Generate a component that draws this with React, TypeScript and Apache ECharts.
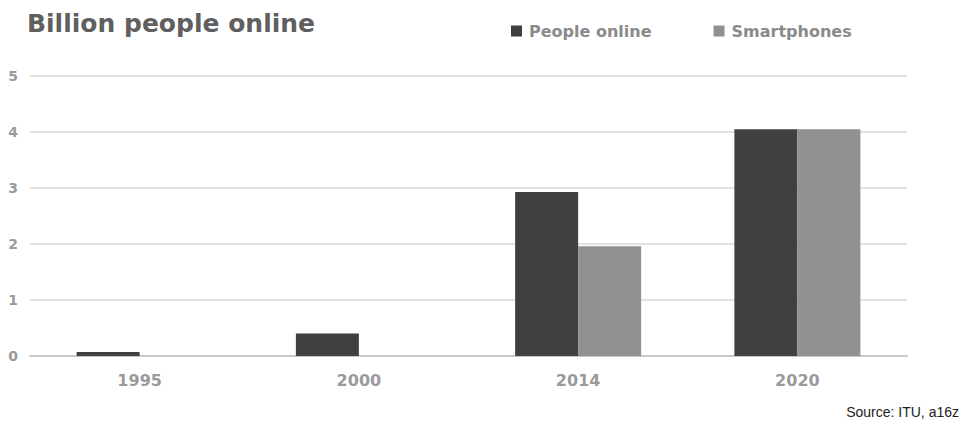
import React, { useEffect, useRef } from "react";
import * as echarts from "echarts";

const categories = ["1995", "2000", "2014", "2020"];
const peopleOnline = [0.07, 0.4, 2.93, 4.05];
const smartphones = [0, 0, 1.96, 4.05];
const seriesNames = ["People online", "Smartphones"];
const titleText = "Billion people online";
const sourceText = "Source: ITU, a16z";

export default function App() {
  const ref = useRef<HTMLDivElement>(null);
  useEffect(() => {
    if (!ref.current) return;
    const chart = echarts.init(ref.current, null, { renderer: "svg" });
    const font = "'DejaVu Sans', Roboto, sans-serif";
    chart.setOption({
      animation: false,
      backgroundColor: "#ffffff",
      title: [
        {
          text: titleText,
          left: 22,
          top: 6,
          textStyle: { fontFamily: font, fontSize: 25, fontWeight: "bold", color: "#5f5f5f" },
        },
        {
          text: sourceText,
          right: 0,
          top: 400,
          textStyle: { fontFamily: "'Liberation Sans', Arial, sans-serif", fontSize: 14, fontWeight: "normal", color: "#222" },
        },
      ],
      legend: {
        left: 506,
        top: 18,
        itemWidth: 11,
        itemHeight: 11,
        itemGap: 62,
        icon: "rect",
        textStyle: { fontFamily: font, fontSize: 16, fontWeight: "bold", color: "#8a8a8a", padding: [0, 0, 0, 2] },
        data: seriesNames,
      },
      grid: { left: 30, right: 57, top: 76, height: 280, containLabel: false },
      xAxis: {
        type: "category",
        data: categories,
        axisLine: { show: true, lineStyle: { color: "#c8c8c8", width: 2 } },
        axisTick: { show: false },
        axisLabel: { margin: 16, fontFamily: font, fontSize: 16, fontWeight: "bold", color: "#9a9a9a" },
      },
      yAxis: {
        type: "value",
        min: 0,
        max: 5,
        interval: 1,
        axisLine: { show: false },
        axisTick: { show: false },
        splitLine: { lineStyle: { color: "#e2e2e2", width: 2 } },
        axisLabel: { margin: 12, fontFamily: font, fontSize: 14, fontWeight: "bold", color: "#9a9a9a" },
      },
      series: [
        {
          name: seriesNames[0],
          type: "bar",
          data: peopleOnline,
          barWidth: 63,
          barGap: "0%",
          itemStyle: { color: "#404040" },
        },
        {
          name: seriesNames[1],
          type: "bar",
          data: smartphones,
          barWidth: 63,
          barGap: "0%",
          itemStyle: { color: "#919191" },
        },
      ],
    });
    return () => chart.dispose();
  }, []);
  return <div ref={ref} style={{ position: "fixed", left: 0, top: 0, width: 964, height: 423 }} />;
}
